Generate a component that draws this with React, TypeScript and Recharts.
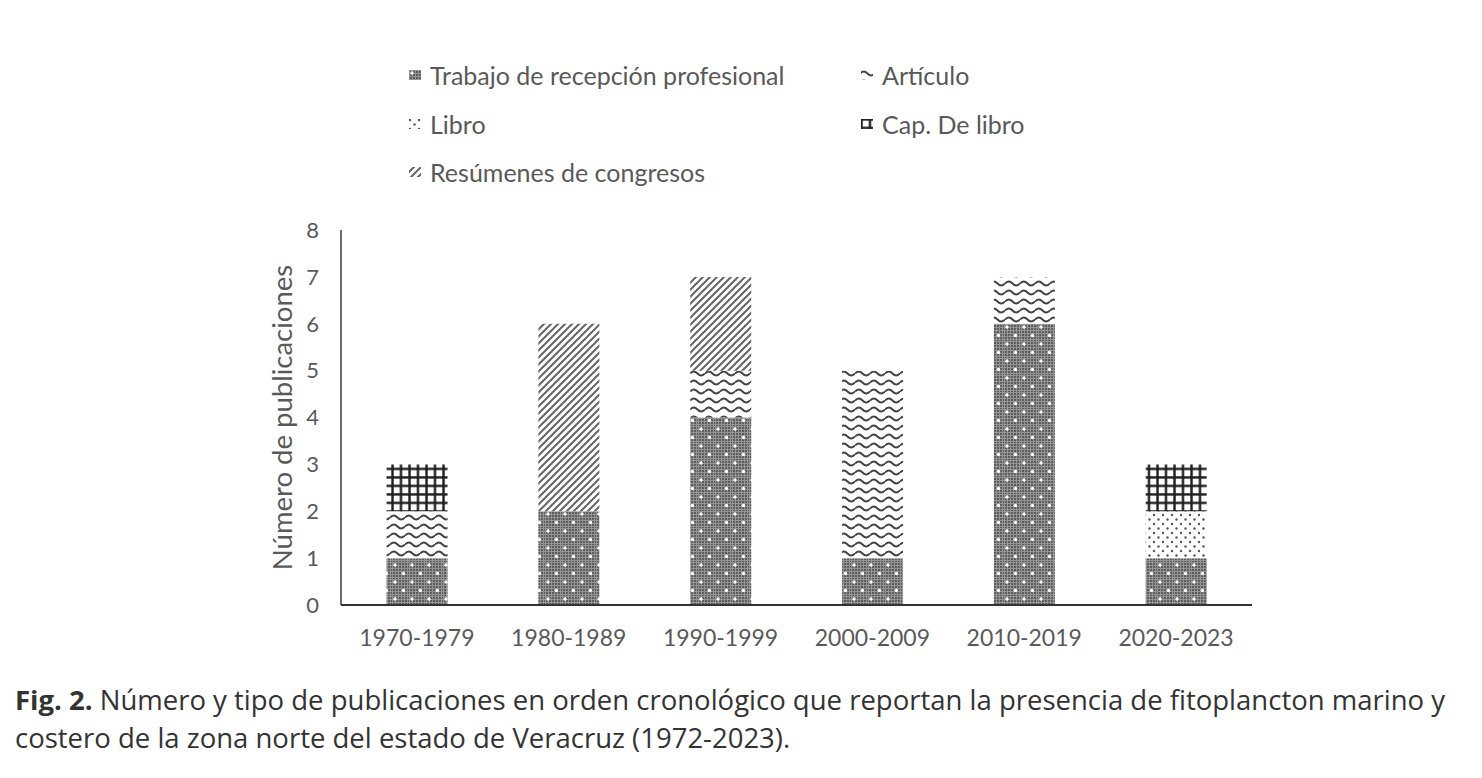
import { BarChart, Bar, XAxis, YAxis, Label } from 'recharts';

const categories = ['1970-1979', '1980-1989', '1990-1999', '2000-2009', '2010-2019', '2020-2023'];
const trabajo = [1, 2, 4, 1, 6, 1];
const articulo = [1, 0, 1, 4, 1, 0];
const libro = [0, 0, 0, 0, 0, 1];
const capLibro = [1, 0, 0, 0, 0, 1];
const resumenes = [0, 4, 2, 0, 0, 0];
const yTicks = [0, 1, 2, 3, 4, 5, 6, 7, 8];

const SERIES = [
    { key: 'trabajo', name: 'Trabajo de recepción profesional', pattern: 'p-dense' },
    { key: 'articulo', name: 'Artículo', pattern: 'p-wave' },
    { key: 'libro', name: 'Libro', pattern: 'p-dots' },
    { key: 'capLibro', name: 'Cap. De libro', pattern: 'p-grid' },
    { key: 'resumenes', name: 'Resúmenes de congresos', pattern: 'p-diag' },
];

const data = categories.map((c, i) => ({
    name: c,
    trabajo: trabajo[i],
    articulo: articulo[i],
    libro: libro[i],
    capLibro: capLibro[i],
    resumenes: resumenes[i],
}));

const FONT = 'Lato, "DejaVu Sans", sans-serif';
const GRAY = '#595959';

function Patterns({ prefix = '' }: { prefix?: string }) {
    return (
        <defs>
            <pattern id={prefix + 'p-dense'} width="17" height="17" patternUnits="userSpaceOnUse">
                <rect width="17" height="17" fill="#5c5c5c" />
                <path d="M0 1.5H17M0 4.5H17M0 7.5H17M0 10.5H17M0 13.5H17M0 16.5H17M1.5 0V17M4.5 0V17M7.5 0V17M10.5 0V17M13.5 0V17M16.5 0V17" stroke="#959595" strokeWidth="1" />
                <circle cx="4" cy="4" r="1.7" fill="#fff" />
                <circle cx="12.5" cy="12.5" r="1.7" fill="#fff" />
            </pattern>
            <pattern id={prefix + 'p-wave'} width="15" height="9" patternUnits="userSpaceOnUse">
                <rect width="15" height="9" fill="#fff" />
                <path d="M0 4.5 C2.5 1.8, 5 1.8, 7.5 4.5 C10 7.2, 12.5 7.2, 15 4.5" fill="none" stroke="#444" strokeWidth="1.9" />
            </pattern>
            <pattern id={prefix + 'p-dots'} width="9" height="9" patternUnits="userSpaceOnUse">
                <rect width="9" height="9" fill="#fff" />
                <circle cx="2" cy="2" r="1.2" fill="#555" />
                <circle cx="6.5" cy="6.5" r="1.2" fill="#555" />
            </pattern>
            <pattern id={prefix + 'p-grid'} width="8.5" height="8.5" patternUnits="userSpaceOnUse">
                <rect width="8.5" height="8.5" fill="#fff" />
                <path d="M1.5 0V8.5M0 1.5H8.5" stroke="#1e1e1e" strokeWidth="2.4" />
            </pattern>
            <pattern id={prefix + 'p-diag'} width="7" height="7" patternUnits="userSpaceOnUse">
                <rect width="7" height="7" fill="#fff" />
                <path d="M-1 8L8 -1M-1 1L1 -1M6 8L8 6" stroke="#666" strokeWidth="2" />
            </pattern>
        </defs>
    );
}

function LegendBlock() {
    return (
        <div
            style={{
                position: 'absolute',
                top: 51,
                left: 408,
                width: 660,
                display: 'grid',
                gridTemplateColumns: '452px 208px',
                fontFamily: FONT,
                fontSize: 25,
                color: GRAY,
            }}
        >
            {SERIES.map((s) => (
                <div key={s.key} style={{ height: 48.5, display: 'flex', alignItems: 'center', whiteSpace: 'nowrap' }}>
                    <svg width="14" height="12" style={{ marginRight: 8 }}>
                        <Patterns prefix={'lg-' + s.key + '-'} />
                        <rect x="1" y="1" width="12" height="10" fill={`url(#lg-${s.key}-${s.pattern})`} />
                    </svg>
                    {s.name}
                </div>
            ))}
        </div>
    );
}

function YLabel(props: any) {
    const vb = props.viewBox || {};
    const x = vb.x + 20;
    const y = vb.y + vb.height / 2;
    return (
        <text
            x={x}
            y={y}
            transform={`rotate(-90, ${x}, ${y})`}
            textAnchor="middle"
            dominantBaseline="central"
            fill={GRAY}
            fontSize={27.5}
            fontFamily={FONT}
        >
            Número de publicaciones
        </text>
    );
}

export default function App() {
    return (
        <div style={{ position: 'absolute', top: 0, left: 0, width: 1482, height: 778, background: '#fff' }}>
            <LegendBlock />
            <BarChart
                width={1482}
                height={680}
                data={data}
                margin={{ top: 230, right: 230, bottom: 35, left: 261 }}
                barCategoryGap="30%"
            >
                <Patterns />
                <XAxis
                    dataKey="name"
                    height={40}
                    tickLine={false}
                    tickSize={0}
                    tickMargin={25}
                    axisLine={{ stroke: '#333', strokeWidth: 2.2 }}
                    tick={{ fill: GRAY, fontSize: 23, fontFamily: FONT }}
                />
                <YAxis
                    width={80}
                    domain={[0, 8]}
                    ticks={yTicks}
                    interval={0}
                    tickLine={false}
                    tickSize={0}
                    tickMargin={22}
                    axisLine={{ stroke: '#444', strokeWidth: 1.6 }}
                    tick={{ fill: GRAY, fontSize: 22, fontFamily: FONT }}
                >
                    <Label content={<YLabel />} />
                </YAxis>
                {SERIES.map((s) => (
                    <Bar
                        key={s.key}
                        dataKey={s.key}
                        name={s.name}
                        stackId="a"
                        fill={`url(#${s.pattern})`}
                        isAnimationActive={false}
                    />
                ))}
            </BarChart>
            <div
                style={{
                    position: 'absolute',
                    top: 681,
                    left: 15,
                    fontFamily: '"Open Sans", sans-serif',
                    fontSize: 27.5,
                    lineHeight: '38px',
                    color: '#333',
                    whiteSpace: 'nowrap',
                }}
            >
                <b>Fig. 2.</b> Número y tipo de publicaciones en orden cronológico que reportan la presencia de fitoplancton marino y
                <br />
                costero de la zona norte del estado de Veracruz (1972-2023).
            </div>
        </div>
    );
}
